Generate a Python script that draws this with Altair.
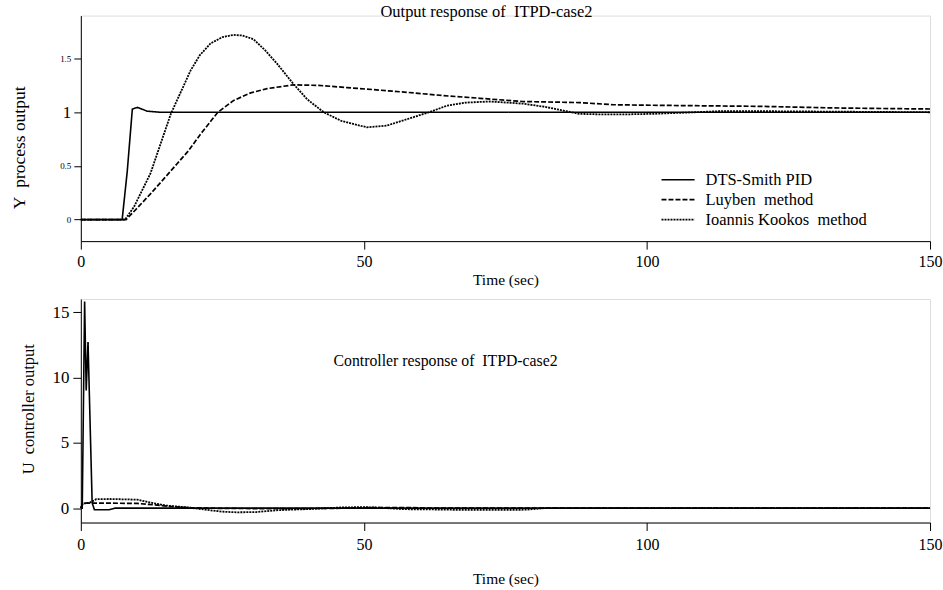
import altair as alt
import pandas as pd

FONT = "Times New Roman, Liberation Serif, Tinos, DejaVu Serif, serif"
NB = "\u00a0"

series_names = ["DTS-Smith PID", "Luyben" + NB + " method", "Ioannis Kookos" + NB + " method"]

# ---- Output response (top) ----
t_dts_y = [0, 7.3, 8.2, 9.1, 10.0, 11.0, 11.7, 14.0, 150]
y_dts = [0, 0, 0.45, 1.03, 1.045, 1.025, 1.01, 1.0, 1.0]

t_luy_y = [0, 8.0, 10, 12.3, 14.5, 17.0, 19.0, 21.2, 23.0, 24.2, 27.0, 30.0, 32.9, 37.5, 42, 47, 53,
           58.8, 64, 70.5, 78, 88, 94, 101, 110, 120, 133, 150]
y_luy = [0, 0, 0.11, 0.24, 0.37, 0.52, 0.64, 0.80, 0.92, 1.0, 1.11, 1.18, 1.22, 1.255, 1.25, 1.23, 1.205,
         1.18, 1.155, 1.13, 1.10, 1.09, 1.07, 1.065, 1.06, 1.055, 1.04, 1.03]

t_kok_y = [0, 7.8, 9.4, 12.3, 15.9, 19.4, 21.0, 22.9, 25.0, 27.0, 28.5, 30.5, 32.5, 34.7, 37.6, 40, 42.9,
           46, 50.5, 54, 58.8, 61.5, 64.6, 68, 72.3, 78.1, 82, 85.2, 88, 92, 96, 101, 106, 113, 120, 135, 150]
y_kok = [0, 0, 0.12, 0.43, 0.985, 1.39, 1.53, 1.64, 1.70, 1.72, 1.715, 1.68, 1.58, 1.45, 1.26, 1.12, 1.0,
         0.92, 0.86, 0.875, 0.955, 1.0, 1.06, 1.09, 1.10, 1.08, 1.05, 1.016, 0.985, 0.98, 0.98, 0.985, 0.995,
         1.01, 1.01, 1.005, 1.0]

# ---- Controller response (bottom) ----
t_dts_u = [0, 0.25, 0.67, 0.95, 1.27, 2.0, 2.4, 5.0, 6.0, 150]
u_dts = [0, 0, 15.8, 9.0, 12.7, 0.4, -0.12, -0.12, 0, 0]

t_luy_u = [0, 0.3, 0.7, 5, 10, 13, 16, 19.5, 25, 35, 45, 52, 57, 62, 150]
u_luy = [0, 0.3, 0.38, 0.38, 0.36, 0.25, 0.12, 0.03, -0.02, -0.04, -0.02, 0.05, 0.05, 0, 0]

t_kok_u = [0, 0.3, 1.5, 2.7, 5, 10, 12, 15, 19, 22, 25, 27.5, 31, 35, 41, 46, 50, 53, 57, 62, 67, 72,
           78.5, 82, 150]
u_kok = [0, 0.35, 0.4, 0.68, 0.7, 0.65, 0.45, 0.2, 0.05, -0.12, -0.27, -0.32, -0.3, -0.15, -0.06, 0.05,
         0.08, 0.03, -0.08, -0.1, -0.13, -0.14, -0.12, 0, 0]

x_ticks = [0, 50, 100, 150]
y_ticks_top = [0, 0.5, 1, 1.5]
y_ticks_bot = [0, 5, 10, 15]


def frame(series_data):
    rows = []
    for name, ts, vs in series_data:
        for i, (t, v) in enumerate(zip(ts, vs)):
            rows.append({"series": name, "t": t, "v": v, "i": i})
    return pd.DataFrame(rows)


df_top = frame([(series_names[0], t_dts_y, y_dts),
                (series_names[1], t_luy_y, y_luy),
                (series_names[2], t_kok_y, y_kok)])
df_bot = frame([(series_names[0], t_dts_u, u_dts),
                (series_names[1], t_luy_u, u_luy),
                (series_names[2], t_kok_u, u_kok)])

dash_scale = alt.Scale(domain=series_names, range=[[1, 0], [5, 2], [2, 1]])
width_scale = alt.Scale(domain=series_names, range=[1.6, 1.8, 2.4])

common_axis = dict(grid=False, domainColor="black", tickColor="black", labelColor="black",
                   titleColor="black", labelFont=FONT, titleFont=FONT, titleFontWeight="normal",
                   domainWidth=1, tickWidth=1)


def x_axis(label_pad, title_y):
    return alt.Axis(values=x_ticks, format="d", tickSize=8, labelPadding=label_pad, labelFontSize=16,
                    labelFlush=False, title="Time (sec)", titleFontSize=15.5, titleY=title_y,
                    titleBaseline="middle", **common_axis)


top = alt.Chart(df_top).mark_line(color="black").encode(
    x=alt.X("t:Q", scale=alt.Scale(domain=[0, 150], nice=False, zero=False), axis=x_axis(4, 38)),
    y=alt.Y("v:Q", scale=alt.Scale(domain=[-0.2, 1.9], nice=False, zero=False),
            axis=alt.Axis(values=y_ticks_top, format="~g", tickSize=7, labelPadding=3,
                          labelFontSize={"condition": {"test": "datum.value == 1", "value": 17}, "value": 9},
                          title="Y" + NB + " process output", titleFontSize=17.5, titleX=-61, titleY=132,
                          titleBaseline="middle", **common_axis)),
    strokeDash=alt.StrokeDash("series:N", scale=dash_scale, sort=series_names,
                              legend=alt.Legend(orient="none", legendX=581, legendY=157, title=None,
                                                labelFont=FONT, labelFontSize=16.5, labelColor="black",
                                                labelLimit=400,
                                                symbolType="stroke", symbolSize=1100,
                                                symbolStrokeColor="black", rowPadding=3,
                                                clipHeight=15, labelOffset=10)),
    strokeWidth=alt.StrokeWidth("series:N", scale=width_scale, sort=series_names),
    order="i:Q",
).properties(
    width=851, height=226,
    title=alt.TitleParams("Output response of" + NB + " ITPD-case2", anchor="middle", frame="group",
                          orient="top", offset=0, baseline="middle", dx=-19, dy=13, font=FONT, fontSize=16.5,
                          fontWeight="normal", color="black"),
)

bottom = alt.Chart(df_bot).mark_line(color="black").encode(
    x=alt.X("t:Q", scale=alt.Scale(domain=[0, 150], nice=False, zero=False), axis=x_axis(6, 56)),
    y=alt.Y("v:Q", scale=alt.Scale(domain=[-1.1, 16], nice=False, zero=False),
            axis=alt.Axis(values=y_ticks_bot, format="d", tickSize=8, labelPadding=4, labelFontSize=17,
                          title="U" + NB + " controller output", titleFontSize=16.5, titleX=-52, titleY=110,
                          titleBaseline="middle", **common_axis)),
    strokeDash=alt.StrokeDash("series:N", scale=dash_scale, sort=series_names, legend=None),
    strokeWidth=alt.StrokeWidth("series:N", scale=width_scale, sort=series_names, legend=None),
    order="i:Q",
).properties(
    width=851, height=224,
    title=alt.TitleParams("Controller response of" + NB + " ITPD-case2", anchor="middle", frame="group",
                          orient="top", offset=0, baseline="middle", dx=-60, dy=79, font=FONT,
                          fontSize=15.8, fontWeight="normal", color="black"),
)

chart = alt.vconcat(top, bottom, spacing=9).resolve_scale(
    strokeDash="independent", strokeWidth="independent"
).properties(
    padding={"left": 10, "top": 3, "right": 0, "bottom": 2}
).configure_view(stroke=None).configure(background="white")

chart.save("out.html", embed_options={"renderer": "svg", "actions": False})
